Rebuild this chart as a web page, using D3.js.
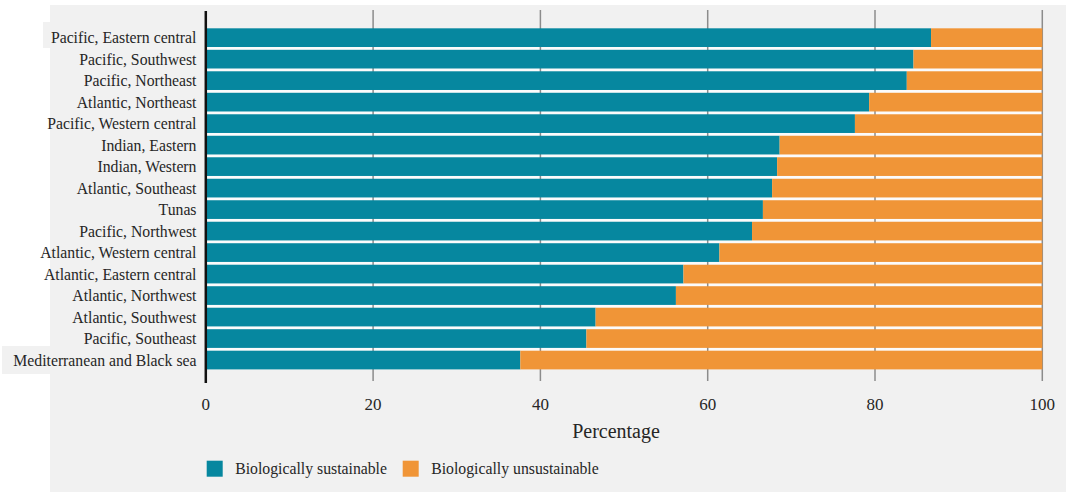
<!DOCTYPE html>
<html>
<head>
<meta charset="utf-8">
<script src="https://cdn.jsdelivr.net/npm/d3@7"></script>
<style>
  html, body { margin: 0; padding: 0; background: #ffffff; }
  svg { display: block; }
  text { font-family: "Liberation Serif", "Times New Roman", serif; fill: #262626; }
</style>
</head>
<body>
<svg id="chart" width="1066" height="492"></svg>
<script>
// Fishing areas, top to bottom
const regions = [
  "Pacific, Eastern central",
  "Pacific, Southwest",
  "Pacific, Northeast",
  "Atlantic, Northeast",
  "Pacific, Western central",
  "Indian, Eastern",
  "Indian, Western",
  "Atlantic, Southeast",
  "Tunas",
  "Pacific, Northwest",
  "Atlantic, Western central",
  "Atlantic, Eastern central",
  "Atlantic, Northwest",
  "Atlantic, Southwest",
  "Pacific, Southeast",
  "Mediterranean and Black sea"
];

// Share of stocks fished within biologically sustainable levels (%)
const sustainable = [86.7, 84.6, 83.8, 79.3, 77.6, 68.6, 68.3, 67.7, 66.6, 65.3, 61.4, 57.1, 56.2, 46.6, 45.5, 37.6];
// Remaining share (%)
const unsustainable = sustainable.map(v => +(100 - v).toFixed(1));

const seriesNames = ["Biologically sustainable", "Biologically unsustainable"];
const seriesColors = ["#06879f", "#f09537"];
const xTicks = [0, 20, 40, 60, 80, 100];
const axisTitle = "Percentage";

const svg = d3.select("#chart");

// Panel background
svg.append("rect").attr("x", 50).attr("y", 5).attr("width", 1016).attr("height", 487).attr("fill", "#f1f1f1");
svg.append("rect").attr("x", 43).attr("y", 22).attr("width", 10).attr("height", 26).attr("fill", "#f1f1f1");
svg.append("rect").attr("x", 2).attr("y", 346).attr("width", 50).attr("height", 28).attr("fill", "#f1f1f1");

const x = d3.scaleLinear().domain([0, 100]).range([205.8, 1042.3]);
const y = d3.scaleBand().domain(regions).range([28.3, 369.4]).paddingInner(0.13).paddingOuter(0);

const rows = regions.map((r, i) => ({ region: r, s: sustainable[i], u: unsustainable[i] }));
const stack = d3.stack().keys(["s", "u"])(rows);

// Light band behind the bar block so the gaps read as thin light lines
svg.append("rect")
  .attr("x", x(0)).attr("y", y(regions[0]))
  .attr("width", x(100) - x(0))
  .attr("height", y(regions[regions.length - 1]) + y.bandwidth() - y(regions[0]))
  .attr("fill", "#fbfbfb");

// Vertical grid lines
const gridTop = 10, gridBottom = 381;
svg.append("g").selectAll("line")
  .data(xTicks.filter(t => t > 0))
  .join("line")
  .attr("x1", d => x(d)).attr("x2", d => x(d))
  .attr("y1", gridTop).attr("y2", gridBottom)
  .attr("stroke", "#8c8c8c").attr("stroke-width", 1.5);

// Stacked bars
svg.append("g").selectAll("g")
  .data(stack)
  .join("g")
  .attr("fill", (d, i) => seriesColors[i])
  .selectAll("rect")
  .data(d => d)
  .join("rect")
  .attr("x", d => x(d[0]))
  .attr("y", d => y(d.data.region))
  .attr("width", d => x(d[1]) - x(d[0]))
  .attr("height", y.bandwidth());

// Left axis line
svg.append("line")
  .attr("x1", x(0)).attr("x2", x(0))
  .attr("y1", gridTop + 1).attr("y2", 383)
  .attr("stroke", "#111").attr("stroke-width", 2.5);

// Category labels
svg.append("g").selectAll("text")
  .data(regions)
  .join("text")
  .attr("x", 196.5)
  .attr("y", d => y(d) + y.bandwidth() / 2)
  .attr("dy", "0.35em")
  .attr("text-anchor", "end")
  .attr("font-size", 15.75)
  .text(d => d);

// X tick labels
svg.append("g").selectAll("text")
  .data(xTicks)
  .join("text")
  .attr("x", d => x(d))
  .attr("y", 410)
  .attr("text-anchor", "middle")
  .attr("font-size", 17)
  .text(d => d);

// Axis title
svg.append("text")
  .attr("x", 616).attr("y", 438)
  .attr("text-anchor", "middle")
  .attr("font-size", 20)
  .text(axisTitle);

// Legend
const legendX = [206.7, 402.7];
const legend = svg.append("g").selectAll("g")
  .data(seriesNames)
  .join("g")
  .attr("transform", (d, i) => `translate(${legendX[i]},460.7)`);
legend.append("rect").attr("width", 16).attr("height", 16).attr("fill", (d, i) => seriesColors[i]);
legend.append("text").attr("x", 28.5).attr("y", 13).attr("font-size", 15.75).text(d => d);
</script>
</body>
</html>
